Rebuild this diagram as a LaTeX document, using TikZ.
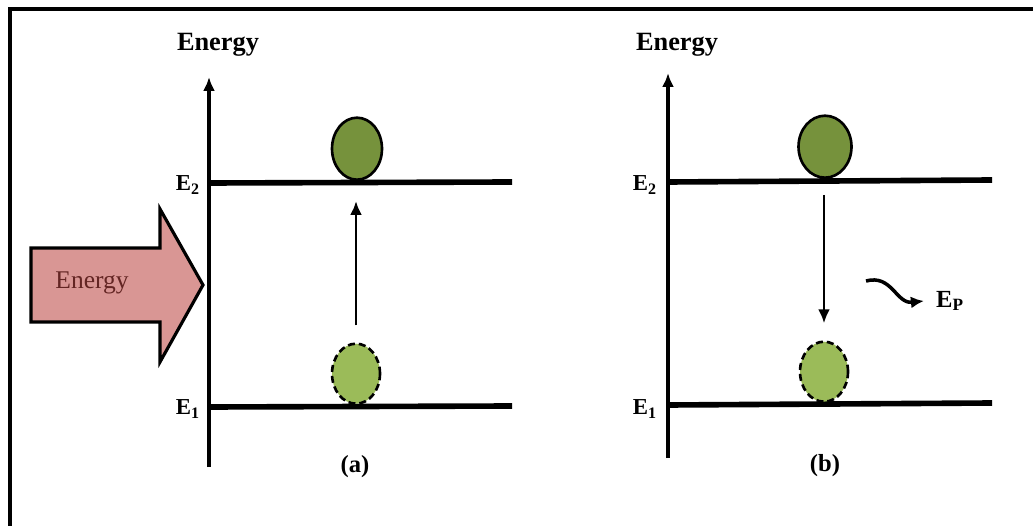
\documentclass[tikz,border=0pt]{standalone}
\usepackage{fontspec}
\setmainfont{Liberation Serif}
\usetikzlibrary{arrows.meta,positioning,shapes.geometric}
\definecolor{ballDark}{RGB}{118,146,60}
\definecolor{ballLight}{RGB}{155,187,89}
\definecolor{pumpPink}{RGB}{217,150,148}
\definecolor{pumpText}{RGB}{99,37,35}

\begin{document}
\begin{tikzpicture}[x=0.02cm,y=-0.02cm,>=Latex,
  level/.style={line width=3.2pt},
  axis/.style={line width=2pt,-{Latex[length=2.8mm,width=2.4mm]}},
  trans/.style={line width=1.6pt,-{Latex[length=2.8mm,width=2.4mm]}},
  upball/.style={ellipse,draw,line width=1.5pt,fill=ballDark,inner sep=0pt,
    minimum width=1.0cm,minimum height=1.24cm,anchor=south},
  lowball/.style={ellipse,draw,dash pattern=on 4pt off 2.2pt,line width=1.5pt,fill=ballLight,
    inner sep=0pt,minimum width=0.96cm,minimum height=1.2cm,anchor=south},
  lvlab/.style={font=\fontsize{13}{15}\selectfont\bfseries},
  axlab/.style={font=\fontsize{15}{18}\selectfont\bfseries},
  caplab/.style={font=\fontsize{14}{17}\selectfont\bfseries}]
  \useasboundingbox (0,0) rectangle (1033,526);
  \draw[line width=2pt] (10,540) |- (1045,9);

  \draw[line width=1.8pt,fill=pumpPink]
    (31,248) -- (160,248) -- (160,209) -- (203,285) -- (160,362) -- (160,322) -- (31,322) -- cycle;
  \node[pumpText,font=\fontsize{14.5}{17}\selectfont] (pump) at (92,283) {Energy};

  \coordinate (aBot) at (209,467);
  \coordinate (aTop) at (209,77);
  \draw[axis] (aBot) -- (aTop);
  \node[axlab] (aEn) at (218,45) {Energy};
  \coordinate (a2L) at (209,183);
  \coordinate (a2R) at (512,182);
  \coordinate (a1L) at (209,407);
  \coordinate (a1R) at (512,406);
  \draw[level] (a2L) -- (a2R);
  \draw[level] (a1L) -- (a1R);
  \node[lvlab] (a2lab) at (188,185) {E\textsubscript{2}};
  \node[lvlab] (a1lab) at (188,409) {E\textsubscript{1}};
  \node[upball] (aHigh) at (357,181) {};
  \node[lowball] (aLow) at (356,405) {};
  \draw[trans] ([yshift=0.34cm]aLow.north) -- ([yshift=-0.4cm]aLow.north |- aHigh.south);
  \node[caplab] (aCap) at (355,467) {(a)};

  \coordinate (bBot) at (668,458);
  \coordinate (bTop) at (668,73);
  \draw[axis] (bBot) -- (bTop);
  \node[axlab] (bEn) at (677,45) {Energy};
  \coordinate (b2L) at (668,182);
  \coordinate (b2R) at (992,180);
  \coordinate (b1L) at (668,405);
  \coordinate (b1R) at (992,403);
  \draw[level] (b2L) -- (b2R);
  \draw[level] (b1L) -- (b1R);
  \node[lvlab] (b2lab) at (645,185) {E\textsubscript{2}};
  \node[lvlab] (b1lab) at (645,409) {E\textsubscript{1}};
  \node[upball,minimum width=1.06cm] (bHigh) at (825,179) {};
  \node[lowball] (bLow) at (824,403) {};
  \draw[trans] ([yshift=-0.32cm]bLow.north |- bHigh.south) -- ([yshift=0.34cm]bLow.north);
  \node[caplab] (bCap) at (825,466) {(b)};

  \coordinate (wave) at (866,281);
  \node[caplab] (ep) at (950,301) {E\textsubscript{P}};
  \draw[line width=2pt,-{Latex[length=2.6mm,width=2.4mm]}]
    (wave) .. controls (892,274) and (896,304) .. ([xshift=-0.12cm]ep.west);
\end{tikzpicture}
\end{document}
